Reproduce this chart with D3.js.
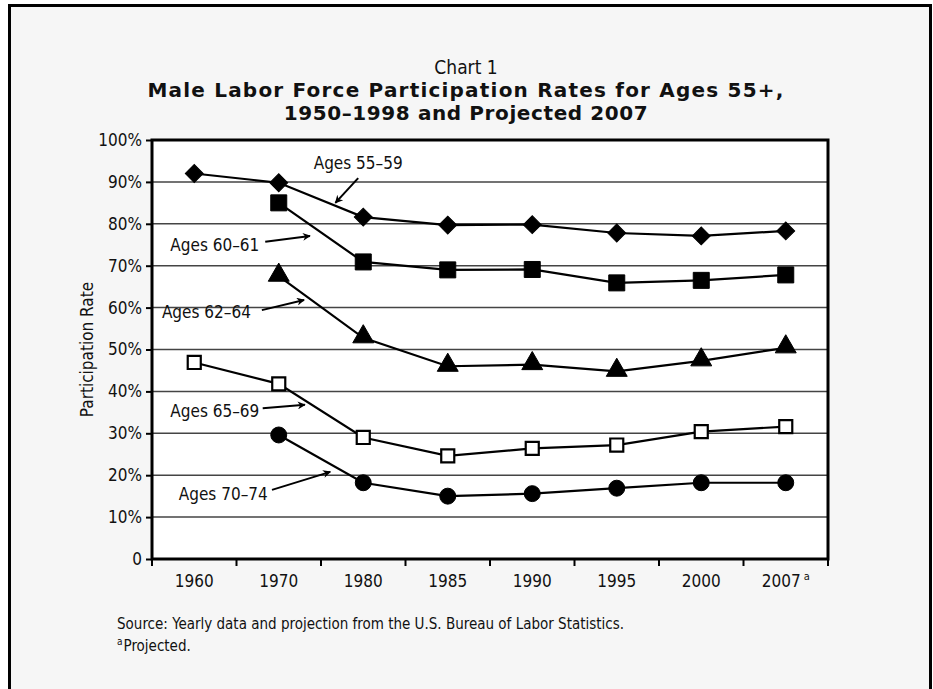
<!DOCTYPE html>
<html>
<head>
<meta charset="utf-8">
<script src="https://cdn.jsdelivr.net/npm/d3@7"></script>
<style>
  body { margin: 0; background: #fff; }
  text { font-family: "Liberation Sans Narrow", "DejaVu Sans Condensed", sans-serif; fill: #111; }
</style>
</head>
<body>
<div id="chart"></div>
<script>
// Categories and series (percent)
var years = ["1960", "1970", "1980", "1985", "1990", "1995", "2000", "2007"];
var ages5559 = [92.0, 89.8, 81.6, 79.7, 79.8, 77.8, 77.1, 78.3];
var ages6061 = [null, 85.0, 70.9, 69.0, 69.1, 65.9, 66.5, 67.8];
var ages6264 = [null, 67.5, 52.8, 46.0, 46.4, 44.8, 47.3, 50.4];
var ages6569 = [46.9, 41.8, 29.0, 24.6, 26.4, 27.2, 30.4, 31.6];
var ages7074 = [null, 29.6, 18.2, 15.0, 15.6, 16.9, 18.2, 18.2];
var yTicks = [0, 10, 20, 30, 40, 50, 60, 70, 80, 90, 100];

var seriesList = [
    {name: "Ages 55–59", values: ages5559, shape: "diamond"},
    {name: "Ages 60–61", values: ages6061, shape: "square"},
    {name: "Ages 62–64", values: ages6264, shape: "triangle"},
    {name: "Ages 65–69", values: ages6569, shape: "openSquare"},
    {name: "Ages 70–74", values: ages7074, shape: "circle"}
];

// label callouts, in band units (u, from left plot edge) and percent (v)
var callouts = [
    {text: "Ages 55–59", anchor: "middle", tu: 2.44, tv: 93.1, a: [2.44, 90.9, 2.17, 85.0]},
    {text: "Ages 60–61", anchor: "end", tu: 1.27, tv: 73.6, a: [1.34, 75.7, 1.87, 77.1]},
    {text: "Ages 62–64", anchor: "end", tu: 1.17, tv: 57.4, a: [1.30, 59.4, 1.80, 61.8]},
    {text: "Ages 65–69", anchor: "end", tu: 1.27, tv: 34.0, a: [1.31, 36.0, 1.81, 36.8]},
    {text: "Ages 70–74", anchor: "end", tu: 1.37, tv: 14.2, a: [1.42, 16.5, 2.11, 20.8]}
];

var width = 933, height = 689;
var margin = {top: 140, left: 152, right: 105, bottom: 130};

var svg = d3.select("#chart").append("svg")
    .attr("width", width)
    .attr("height", height);

// outer frame
svg.append("rect")
    .attr("x", 9.5).attr("y", 5.5)
    .attr("width", 921).attr("height", 700)
    .style("fill", "#f6f6f6")
    .style("stroke", "#000")
    .style("stroke-width", 3);

var x = d3.scaleBand()
    .domain(years)
    .range([margin.left, width - margin.right]);
var y = d3.scaleLinear()
    .domain([0, 100])
    .range([height - margin.bottom, margin.top]);

function ux(u) { return x.range()[0] + u * x.step(); }

// title
svg.append("text")
    .attr("x", 466).attr("y", 74)
    .attr("text-anchor", "middle")
    .style("font-size", "19px")
    .text("Chart 1");
svg.append("text")
    .attr("x", 466).attr("y", 97)
    .attr("text-anchor", "middle")
    .style("font-family", "DejaVu Sans")
    .style("font-weight", "bold")
    .style("font-size", "20px")
    .style("letter-spacing", "1.2px")
    .text("Male Labor Force Participation Rates for Ages 55+,");
svg.append("text")
    .attr("x", 466).attr("y", 120)
    .attr("text-anchor", "middle")
    .style("font-family", "DejaVu Sans")
    .style("font-weight", "bold")
    .style("font-size", "20px")
    .style("letter-spacing", "0.6px")
    .text("1950–1998 and Projected 2007");

// plot background
svg.append("rect")
    .attr("x", x.range()[0]).attr("y", y(100))
    .attr("width", x.range()[1] - x.range()[0])
    .attr("height", y(0) - y(100))
    .style("fill", "#fff");

// gridlines
svg.append("g").selectAll("line")
    .data(yTicks.filter(d => d > 0 && d < 100))
    .join("line")
    .attr("x1", x.range()[0]).attr("x2", x.range()[1])
    .attr("y1", d => y(d)).attr("y2", d => y(d))
    .style("stroke", "#444")
    .style("stroke-width", 1.5);

// y axis
var yAxis = svg.append("g")
    .attr("transform", "translate(" + x.range()[0] + ",0)")
    .call(d3.axisLeft(y).tickValues(yTicks).tickSize(6).tickPadding(4)
        .tickFormat(d => d === 0 ? "0" : d + "%"));
yAxis.select(".domain").remove();
yAxis.selectAll(".tick line").style("stroke", "#000").style("stroke-width", 2);
yAxis.selectAll("text").style("font-size", "17px").style("font-family", null);

// x axis
var xAxis = svg.append("g")
    .attr("transform", "translate(0," + y(0) + ")");
xAxis.selectAll("line")
    .data(d3.range(years.length + 1))
    .join("line")
    .attr("x1", d => ux(d)).attr("x2", d => ux(d))
    .attr("y1", 0).attr("y2", 7)
    .style("stroke", "#000").style("stroke-width", 2);
var xl = xAxis.selectAll("text")
    .data(years)
    .join("text")
    .attr("x", d => x(d) + x.bandwidth() / 2)
    .attr("y", 28)
    .attr("text-anchor", "middle")
    .style("font-size", "17px")
    .text(d => d);
xl.filter(d => d === "2007").append("tspan")
    .attr("dx", 3).attr("dy", -7)
    .style("font-size", "11px")
    .text("a");

// plot border
svg.append("rect")
    .attr("x", x.range()[0]).attr("y", y(100))
    .attr("width", x.range()[1] - x.range()[0])
    .attr("height", y(0) - y(100))
    .style("fill", "none")
    .style("stroke", "#000")
    .style("stroke-width", 3);

// y label
svg.append("text")
    .attr("transform", "translate(93," + y(50) + ") rotate(-90)")
    .attr("text-anchor", "middle")
    .style("font-size", "17px")
    .text("Participation Rate");

// lines
var line = d3.line()
    .defined(d => d.v !== null)
    .x(d => x(d.year) + x.bandwidth() / 2)
    .y(d => y(d.v));

var symbolFor = {
    diamond: d3.symbol().type(d3.symbolSquare).size(160),
    square: d3.symbol().type(d3.symbolSquare).size(256),
    triangle: d3.symbol().type(d3.symbolTriangle).size(190),
    openSquare: d3.symbol().type(d3.symbolSquare).size(170),
    circle: d3.symbol().type(d3.symbolCircle).size(200)
};

seriesList.forEach(function(s) {
    var pts = years.map((yr, i) => ({year: yr, v: s.values[i]}));
    svg.append("path")
        .datum(pts)
        .attr("d", line)
        .style("fill", "none")
        .style("stroke", "#000")
        .style("stroke-width", 2.2);
    svg.append("g").selectAll("path")
        .data(pts.filter(d => d.v !== null))
        .join("path")
        .attr("d", symbolFor[s.shape])
        .attr("transform", function(d) {
            var t = "translate(" + (x(d.year) + x.bandwidth() / 2) + "," + y(d.v) + ")";
            if (s.shape === "diamond") t += " rotate(45)";
            if (s.shape === "triangle") t += " translate(0,-1)";
            return t;
        })
        .style("fill", s.shape === "openSquare" ? "#fff" : "#000")
        .style("stroke", "#000")
        .style("stroke-width", s.shape === "openSquare" ? 2.2 : 1);
});

// callouts
svg.append("defs").append("marker")
    .attr("id", "arrow")
    .attr("viewBox", "0 0 10 10")
    .attr("refX", 9).attr("refY", 5)
    .attr("markerWidth", 13).attr("markerHeight", 8)
    .attr("markerUnits", "userSpaceOnUse")
    .attr("orient", "auto")
    .append("path")
    .attr("d", "M0,0 L10,5 L0,10 L3,5 Z")
    .style("fill", "#000");

callouts.forEach(function(c) {
    svg.append("text")
        .attr("x", ux(c.tu)).attr("y", y(c.tv))
        .attr("text-anchor", c.anchor)
        .style("font-size", "17px")
        .text(c.text);
    svg.append("line")
        .attr("x1", ux(c.a[0])).attr("y1", y(c.a[1]))
        .attr("x2", ux(c.a[2])).attr("y2", y(c.a[3]))
        .style("stroke", "#000")
        .style("stroke-width", 2)
        .attr("marker-end", "url(#arrow)");
});

// footnote
svg.append("text")
    .attr("x", 117).attr("y", 629)
    .style("font-size", "15px")
    .text("Source: Yearly data and projection from the U.S. Bureau of Labor Statistics.");
var fn = svg.append("text")
    .attr("x", 117).attr("y", 651)
    .style("font-size", "15px");
fn.append("tspan").attr("dy", -6).style("font-size", "10px").text("a");
fn.append("tspan").attr("dx", 1).attr("dy", 6).text("Projected.");
</script>
</body>
</html>
